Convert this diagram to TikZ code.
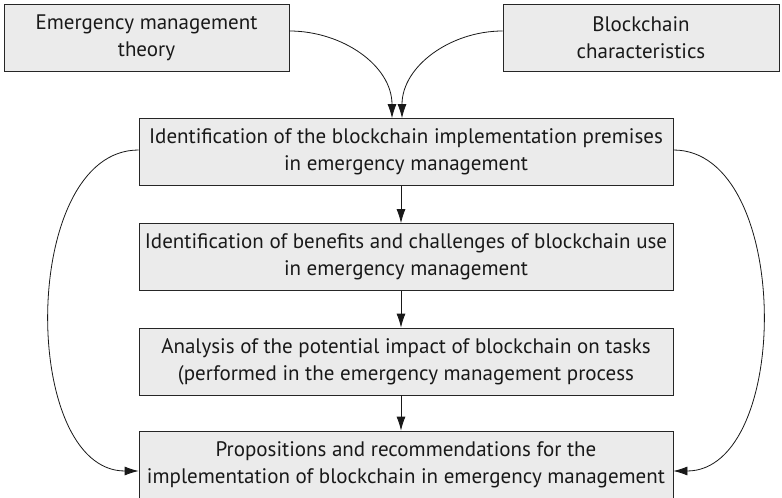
\documentclass[tikz,border=0pt]{standalone}
\usepackage{fontspec}
\setmainfont{PT Sans}
\usepackage{tikz}
\usetikzlibrary{arrows.meta}

\tikzset{
  stage/.style={draw=black!85, fill=black!8, line width=0.8pt, inner sep=0pt,
    minimum height=67pt, align=center, text=black!90,
    font=\fontsize{21}{27}\selectfont},
  flow/.style={-{Latex[length=14pt,width=9pt]}, line width=0.8pt, black!90}
}

\begin{document}
\begin{tikzpicture}[x=1pt,y=-1pt]
\useasboundingbox[fill=white] (0,0) rectangle (782,498);
% inputs
\node[stage, minimum width=285pt] (theory) at (146.5,38) {Emergency management\\theory};
\node[stage, minimum width=276pt] (chars) at (641,37.5) {Blockchain\\characteristics};
% main chain of stages
\node[stage, minimum width=534pt] (premises) at (406,152) {Identification of the blockchain implementation premises\\in emergency management};
\node[stage, minimum width=534pt] (benefits) at (406,257) {Identification of benefits and challenges of blockchain use\\in emergency management};
\node[stage, minimum width=534pt] (impact) at (406,361.5) {Analysis of the potential impact of blockchain on tasks\\(performed in the emergency management process};
\node[stage, minimum width=534pt] (props) at (406,464.5) {Propositions and recommendations for the\\implementation of blockchain in emergency management};

\draw[flow] ([yshift=7pt]theory.east) to[out=0,in=90] ([xshift=-14pt]premises.north);
\draw[flow] ([yshift=6.5pt]chars.west) to[out=180,in=90] ([xshift=-4pt]premises.north);
\draw[flow] ([xshift=-5pt]premises.south) -- ([xshift=-5pt]benefits.north);
\draw[flow] ([xshift=-5pt]benefits.south) -- ([xshift=-5pt]impact.north);
\draw[flow] ([xshift=-5pt]impact.south) -- ([xshift=-5pt]props.north);
% feedback round the sides
\draw[flow] ([yshift=2pt]premises.west) to[out=180,in=180,looseness=0.95] ([yshift=-6.5pt]props.west);
\draw[flow] ([yshift=2pt]premises.east) to[out=0,in=0,looseness=0.95] ([yshift=-6.5pt]props.east);
\end{tikzpicture}
\end{document}
